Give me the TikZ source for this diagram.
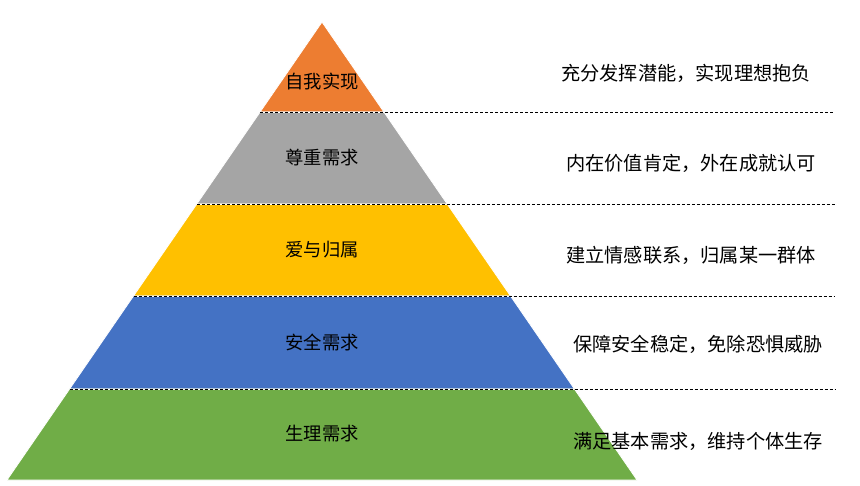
\documentclass[tikz,border=0pt]{standalone}
\usepackage{fontspec}
\newfontfamily\cjk{Noto Sans CJK SC}
\usepackage{xcolor}
\definecolor{layerOrange}{RGB}{237, 125, 49}
\definecolor{layerGray}{RGB}{165, 165, 165}
\definecolor{layerYellow}{RGB}{255, 192, 0}
\definecolor{layerBlue}{RGB}{68, 114, 196}
\definecolor{layerGreen}{RGB}{112, 173, 71}
\usetikzlibrary{positioning}

\begin{document}
\begin{tikzpicture}[x=1pt,y=-1pt,
        layer/.style={draw=white,line width=0.8pt},
        level/.style={font=\cjk\fontsize{18.3}{22}\selectfont,inner sep=0pt},
        need/.style={font=\cjk\fontsize{19.2}{23}\selectfont,inner sep=0pt},
        divider/.style={black,line width=0.8pt,dash pattern=on 3pt off 2pt}
    ]
        \useasboundingbox (0,0) rectangle (860,486);

        % pyramid corners
        \coordinate (top) at (322,22);
        \coordinate (l1) at (260.1,112); \coordinate (r1) at (383.9,112);
        \coordinate (l2) at (196.8,204); \coordinate (r2) at (447.2,204);
        \coordinate (l3) at (133.5,296); \coordinate (r3) at (510.5,296);
        \coordinate (l4) at (69.6,389);  \coordinate (r4) at (574.4,389);
        \coordinate (l5) at (7,480);     \coordinate (r5) at (637,480);

        % layers
        \fill[layer,fill=layerOrange] (top) -- (r1) -- (l1) -- cycle;
        \fill[layer,fill=layerGray] (l1) -- (r1) -- (r2) -- (l2) -- cycle;
        \fill[layer,fill=layerYellow] (l2) -- (r2) -- (r3) -- (l3) -- cycle;
        \fill[layer,fill=layerBlue] (l3) -- (r3) -- (r4) -- (l4) -- cycle;
        \fill[layer,fill=layerGreen] (l4) -- (r4) -- (r5) -- (l5) -- cycle;
        \draw[white,line width=0.8pt] (l1) -- (r1) (l2) -- (r2) (l3) -- (r3) (l4) -- (r4);

        % dividers
        \coordinate (e1) at (835,112);
        \coordinate (e2) at (835,204);
        \coordinate (e3) at (835,296);
        \coordinate (e4) at (835,389);
        \draw[divider] (l1) -- (e1);
        \draw[divider] (l2) -- (e2);
        \draw[divider] (l3) -- (e3);
        \draw[divider] (l4) -- (e4);

        % levels
        \node[level] (self) at (322,82) {自我实现};
        \node[level] (esteem) at (322,158) {尊重需求};
        \node[level] (love) at (322,250) {爱与归属};
        \node[level] (safety) at (322,342) {安全需求};
        \node[level] (body) at (322,434) {生理需求};

        % descriptions
        \node[need] (selfText) at (686,73) {充分发挥潜能，实现理想抱负};
        \node[need] (esteemText) at (691,163) {内在价值肯定，外在成就认可};
        \node[need] (loveText) at (691,255) {建立情感联系，归属某一群体};
        \node[need] (safetyText) at (698,344) {保障安全稳定，免除恐惧威胁};
        \node[need] (bodyText) at (698,441) {满足基本需求，维持个体生存};
    \end{tikzpicture}
\end{document}
